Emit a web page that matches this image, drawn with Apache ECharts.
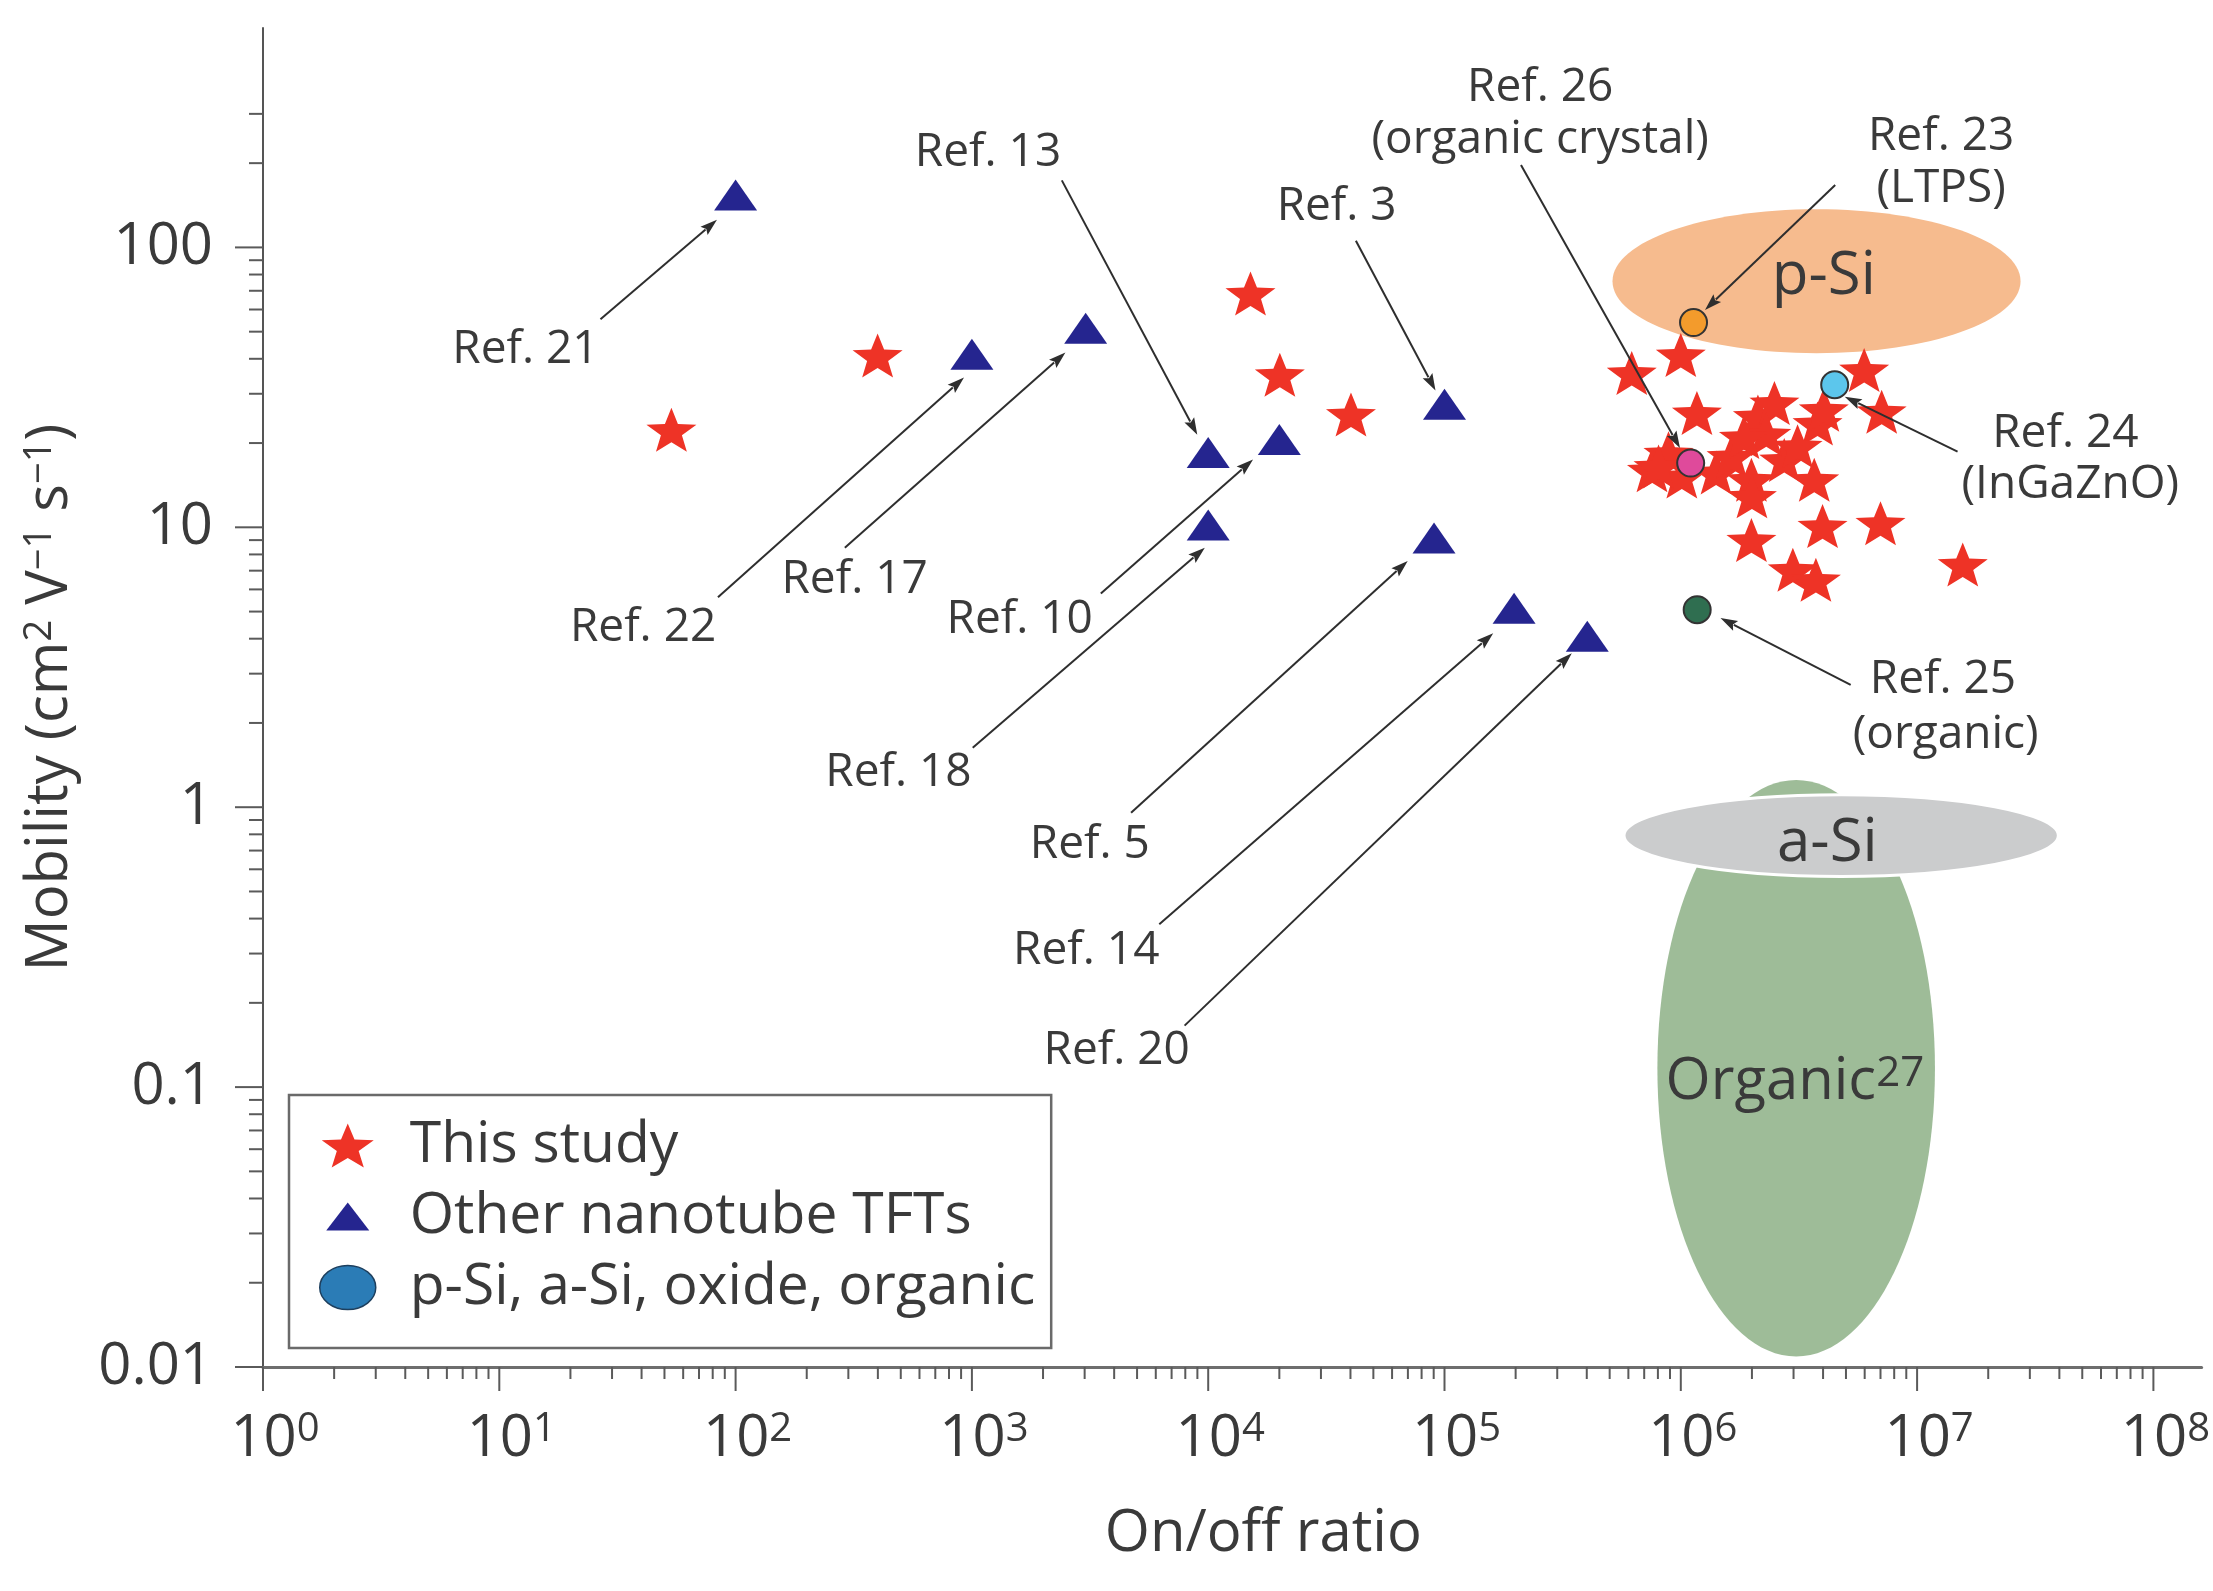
<!DOCTYPE html>
<html>
<head>
<meta charset="utf-8">
<script src="https://cdn.jsdelivr.net/npm/echarts/dist/echarts.min.js"></script>
<style>
html,body{margin:0;padding:0;background:#ffffff;}
#chart{width:2213px;height:1591px;}
</style>
</head>
<body>
<div id="chart"></div>
<script>
// ---------------- DATA ----------------
// "This study" (red stars): on/off ratio, mobility
const studyX = [53.5, 399, 15100, 20100, 40200, 6.2e5, 1.0e6, 5.97e6, 7.08e6, 1.17e6, 2.12e6, 2.49e6, 3.79e6, 4.03e6, 7.55e5, 8.87e5, 1.01e6, 8.05e5, 1.41e6, 1.64e6, 1.99e6, 2.0e6, 2.74e6, 3.12e6, 3.67e6, 2.3e6, 1.85e6, 1.99e6, 3.98e6, 7.0e6, 2.98e6, 3.73e6, 1.56e7];
const studyY = [22.3, 41.1, 68.5, 35.1, 25.3, 35.6, 41.3, 36.5, 25.9, 25.6, 24.9, 27.8, 23.5, 26.3, 16.0, 18.4, 15.2, 16.5, 15.7, 17.9, 14.8, 12.9, 17.4, 19.5, 14.8, 21.5, 21.0, 9.0, 10.1, 10.35, 7.05, 6.49, 7.37];

// "Other nanotube TFTs" (blue triangles)
const tftRefs = ['Ref. 21', 'Ref. 22', 'Ref. 17', 'Ref. 13', 'Ref. 10', 'Ref. 18', 'Ref. 3', 'Ref. 5', 'Ref. 14', 'Ref. 20'];
const tftX = [100, 1000, 3030, 1.0e4, 2.0e4, 1.0e4, 1.0e5, 9.03e4, 1.97e5, 4.02e5];
const tftY = [154, 41.5, 51.4, 18.5, 20.6, 10.2, 27.5, 9.16, 5.14, 4.08];

// p-Si, a-Si, oxide, organic reference devices (circles)
const refNames = ['Ref. 23 (LTPS)', 'Ref. 24 (InGaZnO)', 'Ref. 26 (organic crystal)', 'Ref. 25 (organic)'];
const refX = [1.132e6, 4.48e6, 1.101e6, 1.173e6];
const refY = [53.9, 32.3, 16.96, 5.08];

// Technology regions (ellipses): extents in data units
const regionNames = ['Organic', 'a-Si', 'p-Si'];
const regionXMin = [7.96e5, 5.75e5, 5.14e5];
const regionXMax = [1.19e7, 3.96e7, 2.74e7];
const regionYMin = [0.0109, 0.566, 41.9];
const regionYMax = [1.25, 1.108, 136.8];

// Tick labels
const xTickLabels = ['10{s|0}', '10{s|1}', '10{s|2}', '10{s|3}', '10{s|4}', '10{s|5}', '10{s|6}', '10{s|7}', '10{s|8}'];
const yTickLabels = ['0.01', '0.1', '1', '10', '100'];

// Annotation texts and anchor points (data units)
const annoText = ['Ref. 21', 'Ref. 22', 'Ref. 17', 'Ref. 13', 'Ref. 10', 'Ref. 18', 'Ref. 3', 'Ref. 5', 'Ref. 14', 'Ref. 20',
  'Ref. 26', '(organic crystal)', 'Ref. 23', '(LTPS)', 'Ref. 24', '(InGaZnO)', 'Ref. 25', '(organic)',
  'p-Si', 'a-Si', 'Organic{s|27}'];
const annoX = [12.9, 40.6, 319, 1170, 1594, 489, 34960, 3155, 3048, 4098,
  2.54e5, 2.54e5, 1.264e7, 1.264e7, 4.24e7, 4.45e7, 1.286e7, 1.321e7,
  4.03e6, 4.17e6, 3.04e6];
const annoY = [43.1, 4.38, 6.49, 218, 4.67, 1.328, 139.5, 0.735, 0.306, 0.1343,
  373, 242, 248.7, 161.8, 21.6, 14.2, 2.854, 1.816,
  78.7, 0.741, 0.1042];

// Arrows (from label to marker), data units
const arrowFromX = [26.8, 84.2, 289.9, 2402, 3513, 1008, 42170, 4716, 6209, 7943, 2.107e5, 4.503e6, 1.483e7, 5.235e6];
const arrowFromY = [55.4, 5.62, 8.46, 173.6, 5.80, 1.631, 105.7, 0.956, 0.382, 0.1658, 197, 167.2, 18.65, 2.738];
const arrowToX = [83.4, 925.9, 2487, 8990, 15480, 9676, 91600, 69870, 1.607e5, 3.457e5, 9.92e5, 1.266e6, 4.94e6, 1.472e6];
const arrowToY = [125.5, 34.3, 42.1, 21.4, 17.47, 8.46, 30.8, 7.58, 4.18, 3.548, 19.19, 59.8, 29.3, 4.74];

// ---------------- STYLE ----------------
const FONT = '"Open Sans", "Noto Sans", "DejaVu Sans", sans-serif';
const TEXT_COLOR = '#3a3a3a';
const STAR_COLOR = '#EE3326';
const TRI_COLOR = '#25258F';
const ARROW_COLOR = '#2e2e2e';
const refColors = ['#F39B2C', '#5CC6EC', '#DF4A9B', '#2F6E50'];
const regionColors = ['#9EBC98', '#CBCCCD', '#F6BB8E'];
const regionStroke = [null, '#ffffff', null];
const annoFontSize = [46, 46, 46, 46, 46, 46, 46, 46, 46, 46, 46, 46, 46, 46, 46, 46, 46, 46, 60, 60, 58];
const STAR_PATH = 'path://M50,0L62.34,33.01L97.55,34.55L69.97,56.49L79.39,90.45L50,71L20.61,90.45L30.03,56.49L2.45,34.55L37.66,33.01Z';
const STAR_LEGEND = 'path://M-1.2,0M101.2,90.45M50,0L62.34,33.01L97.55,34.55L69.97,56.49L79.39,90.45L50,71L20.61,90.45L30.03,56.49L2.45,34.55L37.66,33.01Z';
const TRI_LEGEND = 'path://M0,0M56,44M28,8L49.5,36L6.5,36Z';
const ELLIPSE_LEGEND = 'path://M0,21A28,21 0 1 1 56,21A28,21 0 1 1 0,21Z';
const HEAD_LEN = 17, HEAD_W = 11;

// ---------------- AXIS TICKS (drawn through the axes' scales) ----------------
const X_MIN = 1, X_MAX = 1.6e8, Y_MIN = 0.01, Y_MAX = 608;
const tickData = [];
for (let k = 0; k <= 8; k++) {
  tickData.push([Math.pow(10, k), Y_MIN, 0]);
  if (k < 8) for (let m = 2; m <= 9; m++) tickData.push([m * Math.pow(10, k), Y_MIN, 1]);
}
for (let k = -2; k <= 2; k++) {
  tickData.push([X_MIN, Math.pow(10, k), 2]);
  if (k < 2) for (let m = 2; m <= 9; m++) tickData.push([X_MIN, m * Math.pow(10, k), 3]);
}
tickData.push([X_MIN, 200, 3], [X_MIN, 300, 3]);

function powerIndex(v) {
  const e = Math.log10(v);
  const k = Math.round(e);
  return Math.abs(e - k) < 1e-6 ? k : null;
}

const chart = echarts.init(document.getElementById('chart'), null, { renderer: 'canvas' });

const option = {
  animation: false,
  backgroundColor: '#ffffff',
  textStyle: { fontFamily: FONT },
  grid: { left: 263, right: 0, top: 28, bottom: 224, containLabel: false },
  xAxis: {
    type: 'log', logBase: 10, min: X_MIN, max: X_MAX,
    name: 'On/off ratio', nameLocation: 'middle', nameGap: 138,
    nameTextStyle: { fontSize: 58, color: TEXT_COLOR, fontFamily: FONT, padding: [0, 0, 0, 62] },
    axisLine: { show: true, onZero: false, lineStyle: { color: '#6e6e6e', width: 3 } },
    axisTick: { show: false }, minorTick: { show: false }, splitLine: { show: false }, minorSplitLine: { show: false },
    axisLabel: {
      show: true, margin: 43, fontSize: 58, color: TEXT_COLOR, fontFamily: FONT, padding: [0, 0, 0, 24],
      showMinLabel: true, showMaxLabel: true, hideOverlap: false,
      formatter: function (v) { const k = powerIndex(v); return (k !== null && xTickLabels[k]) ? xTickLabels[k] : ''; },
      rich: { s: { fontSize: 40, fontFamily: FONT, color: TEXT_COLOR, verticalAlign: 'top', lineHeight: 40 } }
    }
  },
  yAxis: {
    type: 'log', logBase: 10, min: Y_MIN, max: Y_MAX,
    name: 'Mobility (cm{s|2} V{s|−1} s{s|−1})', nameLocation: 'middle', nameGap: 184, nameRotate: 90,
    nameTextStyle: { fontSize: 58, color: TEXT_COLOR, fontFamily: FONT,
      rich: { s: { fontSize: 38, fontFamily: FONT, color: TEXT_COLOR, verticalAlign: 'top', lineHeight: 38 } } },
    axisLine: { show: true, onZero: false, lineStyle: { color: '#555555', width: 2 } },
    axisTick: { show: false }, minorTick: { show: false }, splitLine: { show: false }, minorSplitLine: { show: false },
    axisLabel: {
      show: true, margin: 50, fontSize: 58, color: TEXT_COLOR, fontFamily: FONT,
      showMinLabel: true, showMaxLabel: true, hideOverlap: false,
      formatter: function (v) { const k = powerIndex(v); return (k !== null && yTickLabels[k + 2]) ? yTickLabels[k + 2] : ''; }
    }
  },
  legend: {
    show: true, orient: 'vertical', left: 289, top: 1095,
    padding: [22, 16, 32, 30], itemGap: 14, itemWidth: 56, itemHeight: 44,
    symbolKeepAspect: false,
    borderColor: '#6a6a6a', borderWidth: 2.5, backgroundColor: '#ffffff',
    textStyle: { fontSize: 57, color: TEXT_COLOR, fontFamily: FONT, padding: [0, 0, 0, 29] },
    selectedMode: false,
    data: [
      { name: 'This study', icon: STAR_LEGEND, itemStyle: { color: STAR_COLOR } },
      { name: 'Other nanotube TFTs', icon: TRI_LEGEND, itemStyle: { color: TRI_COLOR } },
      { name: 'p-Si, a-Si, oxide, organic', icon: ELLIPSE_LEGEND, itemStyle: { color: '#2B7CB6', borderColor: '#1d3f5e', borderWidth: 1.5 } }
    ]
  },
  series: [
    {
      name: 'regions', type: 'custom', coordinateSystem: 'cartesian2d', z: 1, silent: true,
      encode: { x: [0, 1], y: [2, 3] },
      data: regionNames.map((n, i) => [regionXMin[i], regionXMax[i], regionYMin[i], regionYMax[i]]),
      renderItem: function (params, api) {
        const i = params.dataIndex;
        const p1 = api.coord([api.value(0), api.value(3)]);
        const p2 = api.coord([api.value(1), api.value(2)]);
        return {
          type: 'ellipse',
          shape: { cx: (p1[0] + p2[0]) / 2, cy: (p1[1] + p2[1]) / 2, rx: Math.abs(p2[0] - p1[0]) / 2, ry: Math.abs(p2[1] - p1[1]) / 2 },
          style: { fill: regionColors[i], stroke: regionStroke[i], lineWidth: regionStroke[i] ? 3 : 0 }
        };
      }
    },
    {
      name: 'ticks', type: 'custom', coordinateSystem: 'cartesian2d', z: 2, silent: true, clip: false,
      encode: { x: 0, y: 1 },
      data: tickData,
      renderItem: function (params, api) {
        const p = api.coord([api.value(0), api.value(1)]);
        const f = api.value(2);
        let shape;
        if (f < 2) {
          const len = f === 0 ? 24 : 12;
          shape = { x1: p[0], y1: p[1], x2: p[0], y2: p[1] + len };
        } else {
          const len = f === 2 ? 28 : 14;
          shape = { x1: p[0] - len, y1: p[1], x2: p[0], y2: p[1] };
        }
        return { type: 'line', shape: shape, style: { stroke: '#5a5a5a', lineWidth: 2 } };
      }
    },
    {
      name: 'This study', type: 'scatter', z: 3,
      symbol: STAR_PATH, symbolSize: [50, 44], symbolKeepAspect: false,
      itemStyle: { color: STAR_COLOR, opacity: 1 },
      data: studyX.map((x, i) => [x, studyY[i]])
    },
    {
      name: 'Other nanotube TFTs', type: 'scatter', z: 3,
      symbol: 'triangle', symbolSize: [43, 31],
      itemStyle: { color: TRI_COLOR, opacity: 1 },
      data: tftX.map((x, i) => ({ name: tftRefs[i], value: [x, tftY[i]] }))
    },
    {
      name: 'p-Si, a-Si, oxide, organic', type: 'scatter', z: 4,
      symbol: 'circle', symbolSize: 27,
      itemStyle: { color: '#2B7CB6', borderColor: '#333333', borderWidth: 2, opacity: 1 },
      data: refX.map((x, i) => ({ name: refNames[i], value: [x, refY[i]], itemStyle: { color: refColors[i] } }))
    },
    {
      name: 'arrows', type: 'custom', coordinateSystem: 'cartesian2d', z: 5, silent: true, clip: false,
      encode: { x: [0, 2], y: [1, 3] },
      data: arrowFromX.map((x, i) => [x, arrowFromY[i], arrowToX[i], arrowToY[i]]),
      renderItem: function (params, api) {
        const a = api.coord([api.value(0), api.value(1)]);
        const b = api.coord([api.value(2), api.value(3)]);
        const dx = b[0] - a[0], dy = b[1] - a[1];
        const L = Math.sqrt(dx * dx + dy * dy);
        const ux = dx / L, uy = dy / L;
        const bx = b[0] - ux * HEAD_LEN, by = b[1] - uy * HEAD_LEN;
        const nx = -uy * HEAD_W / 2, ny = ux * HEAD_W / 2;
        return {
          type: 'group',
          children: [
            { type: 'line', shape: { x1: a[0], y1: a[1], x2: bx + ux * 2, y2: by + uy * 2 }, style: { stroke: ARROW_COLOR, lineWidth: 2 } },
            { type: 'polygon', shape: { points: [[b[0], b[1]], [bx + nx, by + ny], [bx + ux * 3, by + uy * 3], [bx - nx, by - ny]] }, style: { fill: ARROW_COLOR } }
          ]
        };
      }
    },
    {
      name: 'labels', type: 'custom', coordinateSystem: 'cartesian2d', z: 6, silent: true, clip: false,
      encode: { x: 0, y: 1 },
      data: annoX.map((x, i) => [x, annoY[i]]),
      renderItem: function (params, api) {
        const i = params.dataIndex;
        const p = api.coord([api.value(0), api.value(1)]);
        return {
          type: 'text', x: p[0], y: p[1],
          style: {
            text: annoText[i], fill: TEXT_COLOR, fontSize: annoFontSize[i], fontFamily: FONT,
            align: 'center', verticalAlign: 'middle',
            rich: { s: { fontSize: 42, fontFamily: FONT, fill: TEXT_COLOR, verticalAlign: 'top', lineHeight: 42 } }
          }
        };
      }
    }
  ]
};

chart.setOption(option);
</script>
</body>
</html>
